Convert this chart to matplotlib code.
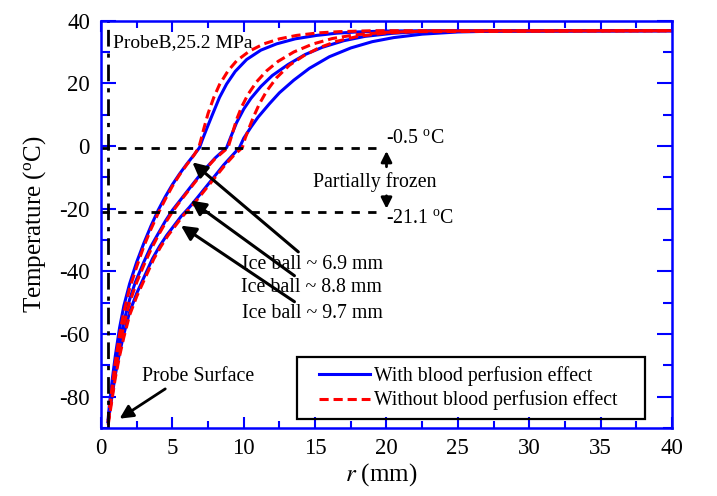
import matplotlib
matplotlib.use("Agg")
import matplotlib.pyplot as plt
from matplotlib.ticker import MultipleLocator
from matplotlib.patches import Rectangle

plt.rcParams['font.family'] = ['Liberation Serif', 'DejaVu Serif']
plt.rcParams['mathtext.fontset'] = 'stix'
plt.rcParams['axes.unicode_minus'] = False

# curves: r (mm) / temperature (C)
# with blood perfusion (blue, solid)
r_b1 = [0.5, 0.6, 0.8, 1.0, 1.3, 1.6, 2.0, 2.5, 3.0, 3.5, 4.0, 4.5, 5.0, 5.5, 6.0, 6.5, 6.9,
        7.1, 7.4, 7.8, 8.3, 8.8, 9.4, 10.2, 11.2, 12.3, 13.6, 15.1, 16.5, 17.9, 20.0, 23.0, 40.0]
t_b1 = [-87, -82, -74, -67, -58, -51, -44, -37, -31, -25.5, -20.5, -16.2, -12.3, -8.9, -5.8, -2.9, -0.5,
        2, 5.5, 10, 15.5, 19.8, 23.8, 27.6, 30.6, 32.6, 34.2, 35.3, 36, 36.4, 36.7, 36.8, 36.8]
r_b2 = [0.5, 0.6, 0.8, 1.0, 1.3, 1.6, 2.0, 2.4, 3.0, 3.5, 4.0, 4.5, 5.0, 5.6, 6.2, 6.8, 7.4, 8.0, 8.8,
        9.1, 9.5, 10.0, 10.5, 11.2, 12.0, 13.1, 14.3, 15.5, 17.0, 18.5, 20.5, 23.0, 40.0]
t_b2 = [-88, -84, -77, -71, -63, -56, -49, -43.5, -37, -32, -28, -24, -20.5, -17, -13.5, -10, -6.8, -3.8, -0.5,
        3, 7.5, 11.8, 15.2, 19, 22.5, 26, 29.2, 31.5, 33.6, 35, 36, 36.6, 36.8]
r_b3 = [0.5, 0.6, 0.8, 1.0, 1.3, 1.6, 2.0, 2.5, 3.1, 3.6, 4.1, 4.6, 5.1, 5.6, 6.2, 6.8, 7.4, 8.0, 8.6, 9.2, 9.7,
        10.0, 10.5, 11.0, 11.8, 12.5, 13.5, 14.6, 16.0, 17.5, 19.0, 20.5, 22.5, 25.0, 28.0, 40.0]
t_b3 = [-88, -85, -79, -73, -66, -60, -53, -47, -41, -36, -32, -28.5, -25.5, -22.5, -19.5, -16.2, -12.8, -9.4, -6, -3, -0.5,
        2.5, 6, 9.2, 13.5, 17, 21, 24.8, 28.5, 31.3, 33.3, 34.6, 35.7, 36.4, 36.7, 36.8]

# without blood perfusion (red, dashed)
r_r1 = [0.5, 0.6, 0.8, 1.0, 1.3, 1.6, 2.0, 2.5, 3.0, 3.5, 4.0, 4.5, 5.0, 5.5, 6.0, 6.5, 6.85,
        7.0, 7.2, 7.5, 7.9, 8.3, 8.9, 9.5, 10.4, 11.4, 12.5, 13.7, 15.2, 16.7, 19.0, 40.0]
t_r1 = [-88, -83, -76, -69, -60, -53, -45.5, -38.5, -32, -26.5, -21.5, -17, -12.8, -9.2, -6, -3, -0.5,
        2, 5.5, 10.4, 15.5, 19.6, 24, 27.2, 30.3, 32.6, 34.2, 35.3, 36.1, 36.5, 36.8, 36.8]
r_r2 = [0.5, 0.6, 0.8, 1.0, 1.3, 1.6, 2.0, 2.5, 3.0, 3.5, 4.0, 4.5, 5.0, 5.6, 6.2, 6.8, 7.4, 8.0, 8.9,
        9.2, 9.5, 9.85, 10.3, 10.9, 11.6, 12.4, 13.5, 14.8, 16.2, 17.8, 20.0, 23.0, 40.0]
t_r2 = [-88, -85, -78, -72, -64, -57, -50, -43.5, -38, -33, -28.6, -24.6, -21, -17.3, -13.8, -10.3, -7, -4, -0.5,
        4, 8.5, 12.5, 16.5, 20.5, 24, 27, 30, 32.5, 34.3, 35.5, 36.3, 36.7, 36.8]
r_r3 = [0.5, 0.6, 0.8, 1.0, 1.3, 1.6, 2.0, 2.5, 3.2, 3.7, 4.2, 4.7, 5.2, 5.7, 6.3, 6.9, 7.5, 8.1, 8.7, 9.3, 9.9,
        10.1, 10.4, 10.7, 11.1, 11.6, 12.3, 13.2, 14.2, 15.3, 16.5, 18.0, 19.8, 22.0, 40.0]
t_r3 = [-89, -86, -80, -74, -67, -61, -54, -48, -41, -36, -32, -28.5, -25.5, -22.5, -19.5, -16.2, -12.8, -9.4, -6, -3, -0.5,
        2.5, 6.1, 9.5, 13.5, 17.5, 21.8, 25.8, 28.8, 31.4, 33.4, 35, 36, 36.5, 36.8]

# frozen zone limits
t_upper = -0.5
t_lower = -21.1

blue = '#0000ff'
red = '#ff0000'
dash = (0, (3, 1.6))

fig = plt.figure(figsize=(7.17, 4.96), dpi=100)
ax = fig.add_axes([0.1409, 0.137, 0.7963, 0.8213])

ax.plot(r_b1, t_b1, color=blue, lw=2.2, label='With blood perfusion effect')
ax.plot(r_b2, t_b2, color=blue, lw=2.2)
ax.plot(r_b3, t_b3, color=blue, lw=2.2)
ax.plot(r_r1, t_r1, color=red, lw=2.2, ls=dash, label='Without blood perfusion effect')
ax.plot(r_r2, t_r2, color=red, lw=2.2, ls=dash)
ax.plot(r_r3, t_r3, color=red, lw=2.2, ls=dash)

# probe surface line and frozen zone limits
ax.axvline(0.5, color='k', lw=2, ls=(0, (6, 2.5, 1.5, 2.5)))
ax.plot([0, 19.5], [t_upper, t_upper], color='k', lw=2, ls=(0, (3, 3)))
ax.plot([0, 19.5], [t_lower, t_lower], color='k', lw=2, ls=(0, (3, 3)))

ax.set_xlim(0, 40)
ax.set_ylim(-90, 40)
ax.xaxis.set_major_locator(MultipleLocator(5))
ax.xaxis.set_minor_locator(MultipleLocator(2.5))
ax.yaxis.set_major_locator(MultipleLocator(20))
ax.yaxis.set_minor_locator(MultipleLocator(10))
ax.tick_params(which='both', direction='in', top=True, right=True, color=blue, width=1.5, labelsize=16.5)
ax.tick_params(axis='x', which='major', length=8, pad=7)
ax.tick_params(axis='x', which='minor', length=5)
ax.tick_params(axis='y', which='major', length=11, pad=8)
ax.tick_params(axis='y', which='minor', length=6.5)
for s in ax.spines.values():
    s.set_color(blue)
    s.set_linewidth(1.8)

ax.set_xlabel('$r$ (mm)', fontsize=18)
ax.set_ylabel(r'Temperature ($\mathregular{^o}$C)', fontsize=18)
ax.xaxis.set_label_coords(0.49, -0.082)
ax.yaxis.set_label_coords(-0.092, 0.5)

fs = 14.3
ax.text(0.85, 33, 'ProbeB,25.2 MPa', fontsize=14, va='center')
ax.text(20.0, 2.5, r'-0.5 $\mathregular{^o}$C', fontsize=fs, va='center')
ax.text(20.0, -23.0, r'-21.1 $\mathregular{^o}$C', fontsize=fs, va='center')
ax.text(19.2, -11.5, 'Partially frozen', fontsize=fs, ha='center', va='center')
arr = dict(arrowstyle='-|>', color='k', lw=2, mutation_scale=16)
ax.annotate('', xy=(20.0, -0.7), xytext=(20.0, -7.5), arrowprops=arr)
ax.annotate('', xy=(20.0, -20.9), xytext=(20.0, -15.0), arrowprops=arr)

big = dict(arrowstyle='-|>', color='k', lw=2.2, mutation_scale=22, shrinkA=0, shrinkB=0)
ax.annotate('Ice ball ~ 6.9 mm', xy=(6.4, -5.2), xytext=(9.9, -37.7), fontsize=fs, va='center', arrowprops=big)
ax.annotate('Ice ball ~ 8.8 mm', xy=(6.3, -17.4), xytext=(9.8, -45.3), fontsize=fs, va='center', arrowprops=big)
ax.annotate('Ice ball ~ 9.7 mm', xy=(5.6, -25.4), xytext=(9.9, -53.6), fontsize=fs, va='center', arrowprops=big)
ax.text(2.9, -73.5, 'Probe Surface', fontsize=fs, va='center')
ax.annotate('', xy=(1.3, -87), xytext=(4.5, -77.5),
            arrowprops=dict(arrowstyle='-|>', color='k', lw=2, mutation_scale=20, shrinkA=0, shrinkB=0))

# legend with a wider box like the original
ax.add_patch(Rectangle((0.3424, 0.0221), 0.611, 0.1522, transform=ax.transAxes,
                       fill=False, edgecolor='k', lw=1.6, zorder=5))
ax.legend(loc='center', bbox_to_anchor=(0.643, 0.098), fontsize=14.2, frameon=False,
          handlelength=2.6, labelspacing=0.25, handletextpad=0.2, borderpad=0)

fig.savefig('out.png', dpi=100)
